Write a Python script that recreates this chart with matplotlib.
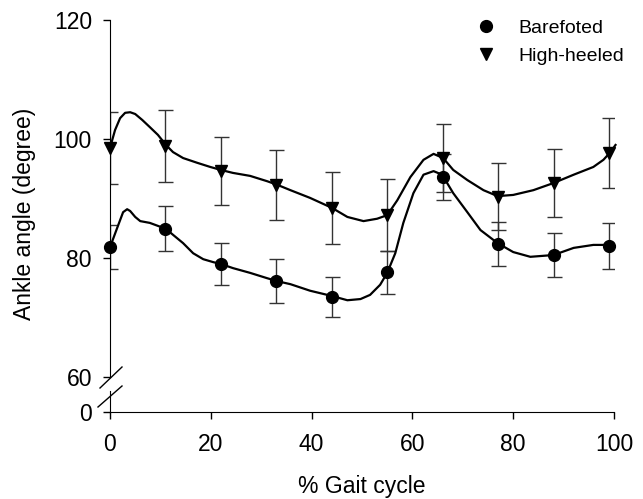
import matplotlib
matplotlib.use("Agg")
import matplotlib.pyplot as plt
from matplotlib.lines import Line2D

plt.rcParams["font.family"] = ["Liberation Sans", "DejaVu Sans"]

# sample points (mean +/- SD) at % gait cycle
gait = [0, 11, 22, 33, 44, 55, 66, 77, 88, 99]
barefoot_mean = [81.8, 84.9, 79.0, 76.1, 73.4, 77.6, 93.6, 82.4, 80.5, 82.0]
barefoot_sd = [3.7, 3.8, 3.6, 3.7, 3.4, 3.6, 3.9, 3.7, 3.7, 3.8]
heeled_mean = [98.5, 98.8, 94.6, 92.3, 88.4, 87.2, 96.8, 90.3, 92.6, 97.6]
heeled_sd = [6.1, 6.0, 5.7, 5.9, 6.0, 6.0, 5.7, 5.6, 5.7, 5.9]

# continuous curves
barefoot_curve_x = [0, 1.4, 2.6, 3.4, 4.0, 5.0, 6.0, 7.9, 9.5, 11.1, 12.5, 14.5,
                    16.5, 18.5, 20.5, 22.0, 24.4, 27.8, 31.2, 33.2, 35.8, 39.7,
                    44.1, 47.1, 49.7, 51.6, 53.6, 55.0, 56.6, 58.2, 60.2, 62.2,
                    64.2, 65.9, 68.1, 70.9, 73.5, 76.9, 80.0, 83.4, 88.0, 92.0,
                    95.9, 99.3]
barefoot_curve_y = [81.8, 85.0, 87.7, 88.2, 87.9, 86.9, 86.2, 85.9, 85.4, 84.9,
                    83.9, 82.5, 80.8, 79.8, 79.3, 79.0, 78.3, 77.5, 76.6, 76.1,
                    75.6, 74.5, 73.6, 72.9, 73.1, 73.8, 75.5, 77.5, 80.8, 85.9,
                    90.9, 94.0, 94.6, 94.0, 90.9, 87.7, 84.7, 82.5, 81.0, 80.2,
                    80.5, 81.7, 82.2, 82.2]
heeled_curve_x = [0, 1.0, 2.0, 3.0, 4.0, 5.0, 6.4, 7.9, 9.5, 11.1, 12.5, 14.5,
                  17.3, 19.9, 22.0, 24.4, 27.8, 31.2, 33.2, 35.8, 39.7, 44.1,
                  47.1, 50.3, 53.0, 55.0, 57.0, 59.6, 62.2, 64.2, 66.1, 68.1,
                  70.9, 74.1, 76.9, 80.0, 84.0, 88.0, 92.0, 95.9, 97.9, 99.3,
                  100.3]
heeled_curve_y = [98.5, 101.5, 103.5, 104.4, 104.5, 104.2, 103.2, 102.0, 100.7,
                  99.0, 97.8, 96.8, 96.0, 95.3, 94.8, 94.3, 93.8, 92.9, 92.3,
                  91.4, 90.1, 88.4, 86.9, 86.2, 86.6, 87.2, 89.7, 93.6, 96.5,
                  97.5, 96.8, 94.8, 93.1, 91.4, 90.4, 90.6, 91.4, 92.6, 94.0,
                  95.3, 96.5, 97.8, 99.0]

W, H = 643, 499
FS = 16.5


def fig_xy(px, py):
    return px / W, 1 - py / H


fig = plt.figure(figsize=(W / 100, H / 100), dpi=100)
ax = fig.add_axes([110 / W, 1 - 377 / H, 504 / W, 357 / H])
ax_b = fig.add_axes([110 / W, 1 - 412 / H, 504 / W, 21 / H], sharex=ax)

bar_kw = dict(fmt="none", ecolor="#333333", elinewidth=1.0, capsize=5.4,
              capthick=1.0, zorder=2)
ax.errorbar(gait, heeled_mean, yerr=heeled_sd, **bar_kw)
ax.errorbar(gait, barefoot_mean, yerr=barefoot_sd, **bar_kw)

ax.plot(heeled_curve_x, heeled_curve_y, color="black", lw=1.6, zorder=3,
        clip_on=False, solid_joinstyle="round")
ax.plot(barefoot_curve_x, barefoot_curve_y, color="black", lw=1.6, zorder=3,
        clip_on=False, solid_joinstyle="round")

ax.plot(gait, barefoot_mean, "o", color="black", ms=8.5, ls="none",
        zorder=4, label="Barefoted", clip_on=False)
ax.plot(gait, heeled_mean, "v", color="black", ms=9, ls="none",
        zorder=4, label="High-heeled", clip_on=False)

ax.set_xlim(0, 100)
ax.set_ylim(60, 120)
ax.set_yticks([60, 80, 100, 120])
for s in ("top", "right", "bottom"):
    ax.spines[s].set_visible(False)
ax.tick_params(axis="x", bottom=False, labelbottom=False)
ax.tick_params(axis="y", direction="out", length=5, width=1, pad=8,
               labelsize=FS)

ax_b.set_ylim(0, 1)
ax_b.set_yticks([0])
ax_b.set_xticks([0, 20, 40, 60, 80, 100])
ax_b.patch.set_visible(False)
for s in ("top", "right"):
    ax_b.spines[s].set_visible(False)
ax_b.tick_params(axis="y", direction="out", length=5, width=1, pad=8,
                 labelsize=FS)
ax_b.tick_params(axis="x", direction="out", length=5, width=1, pad=10,
                 labelsize=FS)

fig.text(*fig_xy(25, 214), "Ankle angle (degree)", rotation=90,
         ha="center", va="center", fontsize=FS)
fig.text(*fig_xy(362, 486), "% Gait cycle", ha="center", va="center",
         fontsize=FS)

# axis break marks
for (x0, y0), (x1, y1) in [((100, 388), (122, 367)), ((98, 407), (122, 386))]:
    a = fig_xy(x0, y0)
    b = fig_xy(x1, y1)
    fig.add_artist(Line2D([a[0], b[0]], [a[1], b[1]], color="black", lw=1.0,
                          transform=fig.transFigure))

ax.legend(loc="upper left", bbox_to_anchor=fig_xy(476, 19),
          bbox_transform=fig.transFigure, frameon=False, fontsize=14,
          numpoints=1, handlelength=1.0, handletextpad=1.2, labelspacing=0.55,
          borderpad=0, borderaxespad=0)

fig.savefig("out.png", dpi=100)
